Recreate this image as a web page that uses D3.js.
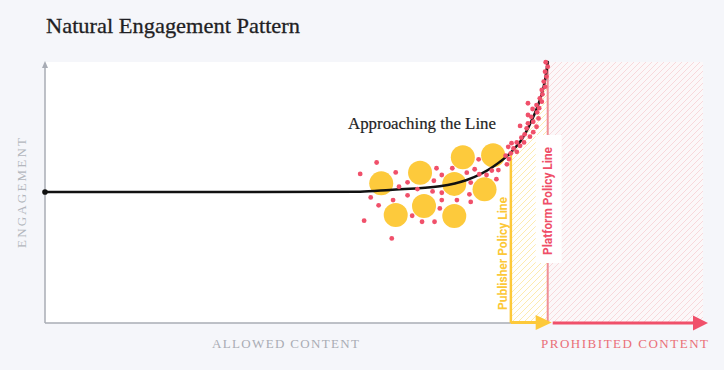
<!DOCTYPE html>
<html><head><meta charset="utf-8">
<script src="https://cdn.jsdelivr.net/npm/d3@7"></script>
<style>
html,body{margin:0;padding:0;background:#f5f6fa;}
svg{display:block;}
</style></head>
<body>
<script>
// ---- data ----
const curveX = [0, 23.6, 47.9, 52.4, 60.0, 64.1, 68.1, 70.7, 72.6, 74.2, 75.2, 76.0, 76.4];
const curveY = [50.2, 50.2, 50.3, 51.0, 52.4, 54.8, 59.9, 65.1, 70.9, 78.9, 85.4, 93.1, 100];

const bigX = [51.1, 57.0, 53.3, 57.6, 63.5, 68.1, 62.2, 66.8, 62.2];
const bigY = [53.5, 57.6, 41.4, 44.8, 63.5, 64.3, 53.3, 51.2, 41.0];

const dotX = [50.4, 47.9, 53.3, 53.8, 55.1, 49.5, 50.7, 52.9, 55.1, 48.5, 52.7, 55.8, 57.3, 56.6, 59.2,
  59.5, 60.3, 59.1, 58.9, 60.3, 60.3, 60.0, 62.6, 64.5, 64.7, 61.9, 64.1, 64.7, 65.3, 65.9, 66.0, 67.1,
  67.9, 68.9, 68.6, 70.2,
  76.1, 76.4, 76.0, 76.2, 75.8, 76.0, 75.5, 75.6, 75.2, 75.5, 74.7, 73.4, 75.1, 74.1, 74.8, 73.9, 75.0,
  74.2, 73.4, 74.7, 72.2, 73.2, 74.2, 72.9, 73.7, 72.4, 71.7, 72.8, 70.9, 72.2, 71.2, 70.4, 71.7, 70.8,
  70.0, 70.5, 73.4];
const dotY = [61.5, 57.1, 57.7, 52.2, 53.9, 48.1, 45.1, 47.1, 48.9, 39.2, 32.4, 41.1, 38.8, 51.3, 38.8,
  59.3, 56.7, 54.5, 50.4, 49.9, 47.1, 43.9, 47.1, 49.3, 46.4, 59.3, 57.6, 53.8, 58.9, 62.7, 57.0, 56.7,
  58.4, 58.6, 55.1, 60.8,
  99.9, 98.2, 96.3, 94.4, 92.5, 90.5, 89.3, 87.6, 86.1, 84.8, 83.5, 84.2, 82.3, 82.0, 80.7, 79.0, 78.4,
  77.1, 76.5, 75.2, 75.5, 74.6, 73.1, 72.3, 71.4, 71.0, 69.2, 69.2, 68.9, 67.9, 66.9, 67.5, 65.6, 65.0,
  64.1, 62.8, 79.7];

const publisherX = 70.8;
const platformX = 76.4;
const xMax = 100;

const title = "Natural Engagement Pattern";
const annotation = "Approaching the Line";
const yLabel = "ENGAGEMENT";
const xLabelAllowed = "ALLOWED CONTENT";
const xLabelProhibited = "PROHIBITED CONTENT";
const publisherLabel = "Publisher Policy Line";
const platformLabel = "Platform Policy Line";

// ---- chart ----
const W = 724, H = 370;
const svg = d3.select("body").append("svg").attr("width", W).attr("height", H);
const x = d3.scaleLinear().domain([0, xMax]).range([45, 703]);
const y = d3.scaleLinear().domain([0, 100]).range([323, 62]);

const RED = "#f0506a", YEL = "#fdc93a", GRAY = "#a8acb5";

const defs = svg.append("defs");
function hatch(id, color, bg) {
  const p = defs.append("pattern").attr("id", id).attr("patternUnits", "userSpaceOnUse")
    .attr("width", 6).attr("height", 6);
  p.append("rect").attr("width", 6).attr("height", 6).attr("fill", bg);
  p.append("path").attr("d", "M-1,1 L1,-1 M0,6 L6,0 M5,7 L7,5")
    .attr("stroke", color).attr("stroke-width", 1);
}
hatch("hRed", "#f8d9dc", "#fcf8f9");
hatch("hYel", "#fdebb0", "#ffffff");

// white plot area
svg.append("rect").attr("x", x(0)).attr("y", y(100)).attr("width", x(platformX) - x(0))
  .attr("height", y(0) - y(100)).attr("fill", "#ffffff");
// prohibited hatched zone
svg.append("rect").attr("x", x(platformX)).attr("y", y(100)).attr("width", x(xMax) - x(platformX))
  .attr("height", y(0) - y(100)).attr("fill", "url(#hRed)");

const pts = curveX.map((v, i) => [v, curveY[i]]);
const lineGen = d3.line().x(d => x(d[0])).y(d => y(d[1])).curve(d3.curveMonotoneX);

// yellow hatch between publisher and platform below curve
defs.append("clipPath").attr("id", "between").append("rect")
  .attr("x", x(publisherX)).attr("y", y(100)).attr("width", x(platformX) - x(publisherX))
  .attr("height", y(0) - y(100));
const areaGen = d3.area().x(d => x(d[0])).y0(y(0)).y1(d => y(d[1])).curve(d3.curveMonotoneX);
svg.append("path").datum(pts).attr("d", areaGen).attr("fill", "url(#hYel)")
  .attr("clip-path", "url(#between)");

// axes
svg.append("line").attr("x1", x(0)).attr("x2", x(0)).attr("y1", y(0)).attr("y2", y(100) + 4)
  .attr("stroke", GRAY).attr("stroke-width", 1.5);
svg.append("path").attr("d", `M${x(0) - 3},${y(100) + 6} L${x(0)},${y(100) - 1} L${x(0) + 3},${y(100) + 6} Z`)
  .attr("fill", GRAY);
svg.append("line").attr("x1", x(0)).attr("x2", x(publisherX)).attr("y1", y(0)).attr("y2", y(0))
  .attr("stroke", GRAY).attr("stroke-width", 1.5);

// platform line (red) with label box
svg.append("line").attr("x1", x(platformX)).attr("x2", x(platformX)).attr("y1", y(100)).attr("y2", y(0))
  .attr("stroke", "#ef8f96").attr("stroke-width", 2);
svg.append("rect").attr("x", x(platformX) - 12).attr("y", 135).attr("width", 26).attr("height", 128)
  .attr("fill", "#ffffff");

// publisher line (yellow)
const pubTop = y(d3.interpolateNumber(curveY[6], curveY[7])((publisherX - curveX[6]) / (curveX[7] - curveX[6])));
svg.append("line").attr("x1", x(publisherX)).attr("x2", x(publisherX)).attr("y1", pubTop).attr("y2", y(0))
  .attr("stroke", YEL).attr("stroke-width", 2.5);

// arrows along x axis
svg.append("line").attr("x1", x(publisherX)).attr("x2", x(platformX) - 8).attr("y1", y(0) - 0.5).attr("y2", y(0) - 0.5)
  .attr("stroke", YEL).attr("stroke-width", 3);
svg.append("path").attr("d", `M${x(platformX) - 12},${y(0) - 8} L${x(platformX) + 4},${y(0) - 0.5} L${x(platformX) - 12},${y(0) + 7} Z`)
  .attr("fill", YEL);
svg.append("line").attr("x1", x(platformX) + 5).attr("x2", x(xMax) - 6).attr("y1", y(0)).attr("y2", y(0))
  .attr("stroke", RED).attr("stroke-width", 3);
svg.append("path").attr("d", `M${x(xMax) - 10},${y(0) - 7.5} L${x(xMax) + 5},${y(0)} L${x(xMax) - 10},${y(0) + 7.5} Z`)
  .attr("fill", RED);

// big yellow circles
svg.append("g").selectAll("circle").data(bigX.map((v, i) => [v, bigY[i]])).join("circle")
  .attr("cx", d => x(d[0])).attr("cy", d => y(d[1])).attr("r", 12).attr("fill", "#fdca3c");

// curve
svg.append("path").datum(pts).attr("d", lineGen).attr("fill", "none")
  .attr("stroke", "#111").attr("stroke-width", 2.5).attr("stroke-linecap", "round");
svg.append("circle").attr("cx", x(curveX[0])).attr("cy", y(curveY[0])).attr("r", 2.8).attr("fill", "#111");

// red dots
svg.append("g").selectAll("circle").data(dotX.map((v, i) => [v, dotY[i]])).join("circle")
  .attr("cx", d => x(d[0])).attr("cy", d => y(d[1])).attr("r", 2.4).attr("fill", RED);

// texts
svg.append("text").attr("x", 46).attr("y", 33).text(title)
  .attr("font-family", "'Liberation Serif', serif").attr("font-size", 22).attr("fill", "#1f1f24")
  .attr("stroke", "#1f1f24").attr("stroke-width", 0.3)
  .attr("textLength", 254).attr("lengthAdjust", "spacingAndGlyphs");
svg.append("text").attr("x", 348).attr("y", 129).text(annotation)
  .attr("font-family", "'Liberation Serif', serif").attr("font-size", 17).attr("fill", "#1f1f24")
  .attr("stroke", "#1f1f24").attr("stroke-width", 0.2)
  .attr("textLength", 148).attr("lengthAdjust", "spacingAndGlyphs");

const axisFont = "'Liberation Serif', serif";
svg.append("text").attr("transform", "translate(26,193) rotate(-90)").attr("text-anchor", "middle")
  .text(yLabel).attr("font-family", axisFont).attr("font-size", 13).attr("fill", "#b3b6bd")
  .attr("textLength", 110).attr("lengthAdjust", "spacing");
svg.append("text").attr("x", 212).attr("y", 348).text(xLabelAllowed)
  .attr("font-family", axisFont).attr("font-size", 13).attr("fill", "#a9acb4")
  .attr("textLength", 147).attr("lengthAdjust", "spacing");
svg.append("text").attr("x", 541).attr("y", 348).text(xLabelProhibited)
  .attr("font-family", axisFont).attr("font-size", 13).attr("fill", "#ea6f78")
  .attr("textLength", 167).attr("lengthAdjust", "spacing");

const sans = "Roboto, 'Liberation Sans', sans-serif";
svg.append("text").attr("transform", `translate(${x(publisherX) - 4},253.5) rotate(-90)`).attr("text-anchor", "middle")
  .text(publisherLabel).attr("font-family", sans).attr("font-weight", 700).attr("font-size", 12)
  .attr("fill", "#fcc838").attr("textLength", 113).attr("lengthAdjust", "spacingAndGlyphs");
svg.append("text").attr("transform", `translate(${x(platformX) + 4.5},201) rotate(-90)`).attr("text-anchor", "middle")
  .text(platformLabel).attr("font-family", sans).attr("font-weight", 700).attr("font-size", 12)
  .attr("fill", "#ef4f68").attr("textLength", 108).attr("lengthAdjust", "spacingAndGlyphs");
</script>
</body></html>
